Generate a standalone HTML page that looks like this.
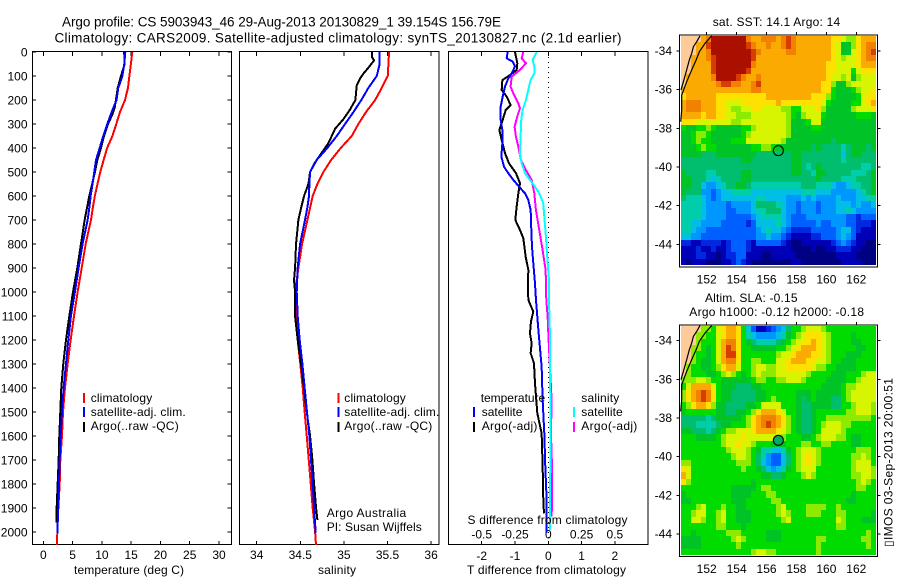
<!DOCTYPE html>
<html lang="en">
<head>
<meta charset="utf-8">
<title>Argo profile chart</title>
<style>
html,body{margin:0;padding:0;background:#fff;width:900px;height:580px;overflow:hidden}
svg{display:block}
text{font-family:"Liberation Sans",Arial,sans-serif;font-size:12px;fill:#000}
.title{font-size:13.5px}
</style>
</head>
<body>
<svg id="chart" xmlns="http://www.w3.org/2000/svg" width="900" height="580" viewBox="0 0 900 580">
<rect x="0" y="0" width="900" height="580" fill="#fff"/>
<text class="title" x="62" y="26.5" textLength="439" lengthAdjust="spacing">Argo profile: CS 5903943_46 29-Aug-2013 20130829_1 39.154S 156.79E</text>
<text class="title" x="54.5" y="42.5" textLength="567" lengthAdjust="spacing">Climatology: CARS2009. Satellite-adjusted climatology: synTS_20130827.nc (2.1d earlier)</text>
<g id="maps"></g>
<g id="panels"></g>

<text x="74" y="574" textLength="110" lengthAdjust="spacing">temperature (deg C)</text>
<text x="318" y="574" textLength="38" lengthAdjust="spacing">salinity</text>
<text x="467" y="574" textLength="159" lengthAdjust="spacing">T difference from climatology</text>
<text x="467.5" y="524" textLength="160" lengthAdjust="spacing">S difference from climatology</text>

<g>
<rect x="83" y="393" width="2" height="10" fill="#f00"/>
<rect x="83" y="407" width="2" height="10" fill="#00f"/>
<rect x="83" y="422" width="2" height="10" fill="#000"/>
<text x="90.7" y="402" textLength="61.5" lengthAdjust="spacing">climatology</text>
<text x="90.7" y="416" textLength="95" lengthAdjust="spacing">satellite-adj. clim.</text>
<text x="90.7" y="430" textLength="88" lengthAdjust="spacing">Argo(..raw -QC)</text>
</g>
<g>
<rect x="337.5" y="393" width="2" height="10" fill="#f00"/>
<rect x="337.5" y="407" width="2" height="10" fill="#00f"/>
<rect x="337.5" y="422" width="2" height="10" fill="#000"/>
<text x="344.3" y="402" textLength="61.5" lengthAdjust="spacing">climatology</text>
<text x="344.3" y="416" textLength="95" lengthAdjust="spacing">satellite-adj. clim.</text>
<text x="344.3" y="430" textLength="88" lengthAdjust="spacing">Argo(..raw -QC)</text>
<text x="326.7" y="517" textLength="79.5" lengthAdjust="spacing">Argo Australia</text>
<text x="326.7" y="531" textLength="95" lengthAdjust="spacing">PI: Susan Wijffels</text>
</g>
<g>
<text x="480.7" y="402" textLength="64.5" lengthAdjust="spacing">temperature</text>
<rect x="473" y="407" width="2" height="10" fill="#00f"/>
<text x="481.7" y="416" textLength="40.7" lengthAdjust="spacing">satellite</text>
<rect x="473" y="422" width="2" height="10" fill="#000"/>
<text x="481.7" y="430" textLength="55.7" lengthAdjust="spacing">Argo(-adj)</text>
<text x="581.3" y="402" textLength="38" lengthAdjust="spacing">salinity</text>
<rect x="573" y="407" width="2" height="10" fill="#0ff"/>
<text x="581.3" y="416" textLength="41.4" lengthAdjust="spacing">satellite</text>
<rect x="573" y="422" width="2" height="10" fill="#f0f"/>
<text x="581.3" y="430" textLength="56" lengthAdjust="spacing">Argo(-adj)</text>
</g>

<text x="712.7" y="26" textLength="127.5" lengthAdjust="spacing">sat. SST: 14.1  Argo: 14</text>
<text x="705" y="302" textLength="92.5" lengthAdjust="spacing">Altim. SLA: -0.15</text>
<text x="689.3" y="316" textLength="174.7" lengthAdjust="spacing">Argo h1000: -0.12 h2000: -0.18</text>
<text transform="translate(892.5,547) rotate(-90)" textLength="169" lengthAdjust="spacing">▯IMOS 03-Sep-2013 20:00:51</text>
</svg>

<script>
/* ---------- profile data (depth in m, temperature in deg C, salinity in psu) ---------- */
const climDepth = [0,100,150,200,250,300,350,400,450,500,550,600,650,700,800,900,1000,1100,1200,1300,1400,1500,1600,1700,1800,1900,2000,2055];
const climTemp  = [15.2,14.7,14.45,13.95,13.1,12.46,11.8,10.9,10.3,9.73,9.25,8.8,8.45,8.14,7.23,6.55,5.86,5.24,4.67,4.15,3.7,3.36,3.19,2.9,2.8,2.56,2.4,2.3];
const climSal   = [35.518,35.503,35.434,35.358,35.254,35.166,35.09,34.964,34.853,34.765,34.696,34.642,34.612,34.581,34.52,34.478,34.44,34.459,34.47,34.5,34.528,34.55,34.574,34.597,34.62,34.642,34.67,34.68];

const satDepth = [0,50,100,150,200,250,300,350,400,450,500,550,600,650,700,800,900,1000,1100,1200,1300,1400,1500,1600,1700,1800,1900,2005];
const satTemp  = [14.0,13.83,13.5,12.8,12.5,11.67,10.93,10.24,9.62,9.0,8.7,8.4,8.08,7.85,7.57,6.7,6.03,5.4,4.72,4.27,3.87,3.47,3.19,2.96,2.79,2.68,2.56,2.39];
const satSal   = [35.41,35.41,35.377,35.28,35.2,35.11,35.013,34.918,34.81,34.688,34.612,34.604,34.6,34.58,34.554,34.497,34.47,34.459,34.47,34.493,34.524,34.55,34.577,34.604,34.623,34.642,34.658,34.677];

const argoTempDepth = [0,50,100,150,200,230,260,300,350,400,450,500,600,700,800,900,1000,1100,1200,1300,1400,1500,1600,1700,1800,1900,1960];
const argoTemp      = [13.8,13.9,13.26,12.7,12.4,12.2,11.8,11.04,10.36,9.85,9.22,8.82,7.85,7.06,6.43,5.8,5.07,4.44,3.87,3.41,3.07,2.9,2.73,2.62,2.45,2.28,2.22];
const argoSalDepth  = [0,20,35,60,90,110,140,200,240,280,320,380,420,460,500,550,600,650,700,800,900,950,1000,1100,1200,1300,1400,1500,1600,1700,1800,1900,1950];
const argoSal       = [35.32,35.32,35.346,35.293,35.224,35.186,35.147,35.132,35.07,34.994,34.899,34.822,34.746,34.669,34.612,34.593,34.543,34.509,34.478,34.451,34.44,34.428,34.44,34.44,34.47,34.509,34.543,34.574,34.612,34.639,34.658,34.681,34.696];

/* differences from climatology */
const dTempSatDepth = [0,26,40,60,89,110,144,186,228,283,325,380,436,478,505,533,561,589,617,658,742,811,880,964,1033,1172,1311,1450,1589,1728,1866,2005];
const dTempSat      = [-1.22,-1.25,-1.07,-1,-1.1,-1.2,-1.3,-1.37,-1.43,-1.43,-1.38,-1.38,-1.41,-1.33,-1.2,-1.05,-0.88,-0.7,-0.6,-0.53,-0.51,-0.49,-0.45,-0.4,-0.37,-0.29,-0.2,-0.17,-0.12,-0.09,-0.05,-0.05];
const dTempArgoDepth = [0,20,47,75,96,117,158,186,221,242,283,325,367,422,464,505,547,589,644,700,742,776,853,908,978,1033,1082,1123,1172,1214,1255,1297,1380,1505,1589,1728,1866,1922];
const dTempArgo      = [-1,-0.97,-0.93,-0.95,-1.15,-1.38,-1.4,-1.25,-1.13,-1.28,-1.37,-1.47,-1.4,-1.3,-1.18,-0.97,-0.85,-0.9,-0.95,-0.99,-0.85,-0.75,-0.68,-0.6,-0.61,-0.6,-0.45,-0.52,-0.55,-0.5,-0.53,-0.43,-0.4,-0.33,-0.2,-0.17,-0.15,-0.13];
const dSalArgoDepth = [0,26,47,75,103,144,172,214,235,269,311,353,394,450,492,533,589,658,742,825,908,1033,1102,1172,1311,1450,1589,1728,1866,1936];
const dSalArgo      = [-0.188,-0.2,-0.168,-0.213,-0.275,-0.283,-0.263,-0.225,-0.213,-0.233,-0.253,-0.243,-0.225,-0.205,-0.168,-0.125,-0.105,-0.093,-0.068,-0.043,-0.02,-0.015,-0.005,0,0.012,0.025,0.02,0.028,0.028,0.025];
const dSalSatDepth = [0,33,61,89,117,158,200,242,283,353,422,464,505,533,561,589,630,686,769,853,950,1033,1172,1450,1728,1991];
const dSalSat      = [-0.0875,-0.1175,-0.105,-0.105,-0.133,-0.15,-0.168,-0.193,-0.203,-0.208,-0.213,-0.2,-0.175,-0.138,-0.1,-0.068,-0.038,-0.03,-0.018,-0.008,0.005,0.005,0.012,0.015,0.015,0.012];

/* tick labels */
const depthTicks = [0,100,200,300,400,500,600,700,800,900,1000,1100,1200,1300,1400,1500,1600,1700,1800,1900,2000];
const tempTicks = [0,5,10,15,20,25,30];
const salTicks = [34,34.5,35,35.5,36];
const dTempTicks = [-2,-1,0,1,2];
const dSalTicks = [-0.5,-0.25,0,0.25,0.5];
const lonTicks = [152,154,156,158,160,162];
const latTicks = [34,36,38,40,42,44];

/* profile location and coastlines (lon E, lat S) */
const argoLon = 156.79;
const argoLat = 39.154;
const coastLon = [151.55,151.33,151.11,151,150.84,150.66,150.44,150.28];
const coastLat = [33.22,33.52,33.78,34.12,34.47,34.98,35.59,36.02];
const shelfLon = [152.33,151.89,151.51,151.29,151,150.66,150.33,150.33,150.26];
const shelfLat = [33.22,33.6,34.03,34.47,34.98,35.59,36.28,37.05,37.66];

/* map grids: colour-scale level per cell, -1 = land (no data) */
const sstGrid = [
[-1,-1,-1,-1,13,14,16,16,16,16,16,16,16,14,13,13,14,14,14,13,14,15,14,13,13,13,13,13,13,13,12,12,11,10,10,12,13,13,13],
[-1,-1,-1,13,13,15,16,16,16,16,16,16,16,15,14,13,13,14,13,13,14,15,14,13,13,13,13,13,13,13,12,11,8,8,10,12,13,14,14],
[-1,-1,-1,13,13,14,16,16,16,16,16,16,16,16,15,14,13,13,13,13,13,14,14,13,13,13,13,13,13,13,12,11,8,8,11,12,13,14,15],
[-1,-1,13,13,13,14,15,16,16,16,16,16,16,16,15,13,13,13,13,13,13,13,13,13,13,13,13,13,13,13,12,11,10,11,11,12,13,14,14],
[-1,-1,13,13,13,13,15,16,16,16,16,16,16,16,14,13,13,13,13,13,13,13,13,13,13,13,13,13,13,12,12,11,11,11,11,12,13,13,13],
[-1,-1,13,13,13,13,15,16,16,16,16,16,16,15,13,13,13,13,13,13,13,13,13,13,13,13,13,13,13,12,12,11,11,11,9,11,12,12,12],
[-1,13,13,13,13,13,14,16,16,16,16,15,14,13,13,14,13,13,13,13,13,13,13,13,13,13,13,13,13,12,11,11,10,11,8,10,11,11,11],
[-1,13,13,13,13,13,13,14,15,15,14,14,13,13,14,15,13,13,13,13,13,13,13,13,13,13,13,13,12,12,10,8,8,10,11,11,11,11,11],
[13,13,13,13,13,13,13,13,13,13,13,13,13,13,14,14,13,13,13,13,13,13,13,13,13,13,13,13,12,12,9,8,8,8,9,10,11,11,12],
[12,13,13,13,13,13,13,12,12,12,12,12,12,12,12,12,12,13,13,13,13,13,13,13,13,13,12,12,12,10,9,8,8,8,8,9,11,12,12],
[13,14,14,14,13,13,13,12,12,11,11,11,12,12,12,12,12,12,12,13,12,12,12,12,12,12,12,12,11,9,8,8,8,8,9,9,11,12,13],
[13,14,14,14,13,13,13,12,12,11,10,10,11,11,12,12,11,11,11,11,10,10,9,9,11,11,11,12,10,8,8,8,8,8,10,11,11,11,12],
[13,13,13,13,12,13,13,12,12,11,11,10,10,10,11,11,11,11,11,11,11,10,9,8,10,11,11,11,9,8,8,8,8,8,8,9,9,9,8],
[12,12,12,11,11,11,11,11,11,11,10,10,11,11,11,11,11,11,11,11,11,10,8,8,8,9,11,11,8,8,8,8,8,8,8,8,8,8,8],
[9,8,8,9,9,10,9,8,8,8,8,8,9,9,10,11,11,11,11,11,11,10,8,8,8,8,9,9,8,8,8,8,8,8,8,8,8,8,8],
[8,8,9,10,10,9,8,8,8,8,8,8,9,10,11,11,11,11,11,11,11,10,8,8,8,8,8,8,8,8,8,8,8,8,8,8,8,8,8],
[8,8,9,10,9,9,8,8,8,8,9,9,9,11,11,11,11,11,11,11,10,8,8,8,8,8,8,8,8,8,7,8,8,8,8,8,8,8,8],
[8,8,8,9,10,9,9,8,8,8,8,8,8,8,9,9,10,10,9,8,8,8,8,8,8,8,7,8,7,7,7,7,6,7,8,8,8,7,8],
[8,8,8,8,7,7,7,8,8,8,8,8,8,8,8,7,7,7,7,7,7,7,8,8,7,7,7,7,7,7,7,7,5,7,8,8,7,7,7],
[7,7,7,7,7,7,7,7,7,7,7,7,8,8,7,7,7,7,7,7,7,7,8,8,7,7,7,7,7,7,7,7,6,7,7,7,7,7,7],
[7,7,7,7,7,7,7,7,7,7,7,7,7,7,7,7,7,7,7,7,7,7,8,8,7,6,7,8,7,7,7,7,7,7,7,7,6,6,7],
[8,7,7,7,7,6,6,7,7,7,7,7,8,8,7,7,7,7,7,7,7,7,8,8,7,7,6,8,8,7,7,7,7,7,6,6,6,7,8],
[8,8,7,7,7,6,5,6,7,7,7,7,8,8,7,7,7,7,7,7,7,7,7,7,7,7,7,8,7,7,7,7,6,6,6,7,7,7,8],
[8,8,7,7,5,4,4,5,6,7,7,8,8,7,6,6,6,6,6,6,6,6,6,6,7,7,7,6,6,6,5,4,4,5,6,6,7,7,8],
[8,7,7,7,4,4,3,4,5,5,6,6,6,6,5,5,5,5,5,5,5,5,5,5,6,6,6,5,5,5,4,4,4,4,4,5,6,7,8],
[7,6,6,6,5,4,3,4,5,5,5,5,5,5,5,6,6,5,5,5,5,4,4,4,5,4,5,4,4,4,4,5,4,4,4,5,5,6,6],
[6,6,6,6,5,4,4,4,4,3,4,4,4,4,5,7,7,7,7,6,5,4,4,3,4,4,4,3,4,4,4,5,5,5,4,5,4,4,5],
[6,6,6,6,5,4,4,4,4,3,3,4,4,4,5,6,6,7,7,7,5,4,4,3,4,4,4,3,4,4,4,5,5,6,5,4,4,4,4],
[6,6,6,6,5,4,4,4,4,3,3,3,3,3,4,5,6,6,6,6,5,4,3,3,3,4,4,4,4,4,4,4,4,3,3,2,3,3,3],
[6,6,5,5,4,4,4,4,3,3,3,3,3,2,3,5,5,5,5,6,5,4,3,3,3,3,3,4,3,3,4,4,4,3,3,2,2,2,1],
[6,6,5,4,4,3,3,3,3,3,3,3,3,3,3,4,5,6,5,5,4,3,2,2,2,2,3,3,3,3,3,4,5,5,3,2,1,1,1],
[5,5,4,4,3,3,3,3,3,3,3,3,3,3,3,4,4,5,4,4,3,2,1,1,1,1,2,2,3,3,3,4,5,4,3,1,1,1,1],
[2,2,1,1,2,2,2,2,1,2,3,3,3,2,1,3,3,3,3,3,2,1,0,0,1,1,1,1,1,1,2,3,4,3,2,1,1,0,0],
[1,1,1,2,1,1,2,1,1,2,3,3,3,2,1,1,1,1,1,1,1,1,0,0,0,0,1,0,0,1,1,2,2,2,1,1,0,0,0],
[1,1,1,2,2,1,1,0,1,2,2,3,3,1,1,1,0,0,1,1,1,1,1,0,0,0,0,0,0,0,0,1,1,1,1,0,0,0,0],
[1,0,1,1,1,0,0,0,1,1,2,3,2,1,0,0,0,0,0,0,0,0,1,1,0,0,0,0,0,0,0,0,1,1,1,1,0,0,0]
];
const slaGrid = [
[-1,-1,-1,-1,10,10,9,11,12,13,13,12,9,5,3,1,1,2,3,4,5,7,9,9,10,11,11,11,10,9,9,9,9,9,9,9,9,9,9],
[-1,-1,-1,10,10,9,9,11,12,13,13,12,9,6,5,4,4,4,4,5,6,8,9,10,11,12,12,12,11,10,9,9,9,9,8,9,9,9,9],
[-1,-1,-1,10,9,9,9,11,13,14,14,12,9,8,7,6,6,6,6,7,8,9,10,11,12,12,13,12,11,10,9,9,9,9,8,8,9,9,9],
[-1,-1,10,10,9,8,9,11,13,15,14,12,9,9,8,8,8,8,8,9,9,10,11,12,13,13,13,12,11,10,9,9,9,9,9,8,8,9,9],
[-1,-1,10,9,9,8,9,11,13,15,15,12,9,9,9,9,9,9,9,10,11,11,12,13,13,13,12,12,11,10,9,9,9,8,8,8,9,9,9],
[-1,-1,10,9,8,8,9,11,13,14,14,12,9,9,10,10,9,9,9,11,11,12,13,13,13,12,12,11,11,10,9,9,8,8,8,9,9,9,9],
[-1,10,9,9,8,8,9,10,12,13,13,11,9,9,10,11,11,10,10,11,11,12,12,12,12,12,11,10,10,9,9,8,8,8,8,9,9,9,9],
[-1,10,9,9,9,8,8,9,10,11,10,9,8,9,10,11,10,10,10,11,11,11,11,11,11,10,9,9,9,9,8,8,8,9,9,9,10,11,11],
[10,10,10,11,11,10,9,9,8,8,8,8,8,8,9,10,10,9,9,10,10,11,11,11,10,9,9,9,9,8,8,8,8,9,9,10,11,11,11],
[9,11,13,13,13,13,11,9,8,8,8,7,7,7,8,8,9,9,9,9,9,9,9,9,9,9,9,9,8,8,8,8,9,10,10,11,11,11,11],
[10,12,13,14,15,14,12,9,8,8,7,7,7,7,7,8,8,9,9,9,9,9,9,8,8,8,9,8,8,8,8,8,9,10,11,11,11,11,11],
[10,12,13,14,15,14,12,9,8,8,7,7,7,7,7,8,8,9,10,9,9,9,9,8,7,8,9,8,8,8,7,7,9,10,11,11,11,11,11],
[9,10,12,13,13,12,10,8,8,7,7,7,7,8,8,9,11,11,11,11,9,9,9,8,7,7,8,8,8,8,7,7,9,9,10,11,11,11,10],
[8,9,9,9,9,9,9,8,8,7,7,8,8,9,10,12,13,13,13,12,11,9,9,8,7,7,8,9,9,9,9,9,9,10,10,11,11,11,10],
[7,7,7,7,7,6,7,8,8,8,8,8,9,10,12,13,14,14,14,13,12,10,9,8,7,7,8,9,9,10,10,10,10,10,10,10,10,10,9],
[7,7,7,6,6,6,6,7,8,8,9,9,9,10,12,13,14,15,14,13,12,10,9,8,7,7,8,9,10,11,11,11,10,10,9,9,9,9,9],
[8,8,7,7,7,6,7,8,9,10,10,11,11,11,12,13,13,13,13,12,11,10,9,8,7,7,8,9,11,11,11,11,10,9,9,9,9,9,9],
[9,9,9,8,8,8,8,9,10,11,11,11,12,11,11,11,11,11,11,11,10,9,9,9,8,8,9,10,11,11,11,10,10,9,8,8,9,9,9],
[9,9,9,9,9,9,9,9,10,11,11,12,11,11,10,9,9,9,8,8,8,9,9,9,10,10,9,9,10,10,9,9,9,9,8,8,9,9,9],
[9,9,9,9,9,9,9,9,9,10,11,11,11,10,9,8,6,6,5,5,6,8,9,10,11,11,11,10,9,9,9,9,9,9,9,10,10,10,9],
[9,9,9,9,9,9,9,9,9,9,10,11,11,10,9,7,6,4,3,3,5,7,9,10,11,12,11,10,9,9,9,9,9,9,10,10,11,10,9],
[10,10,9,9,9,9,9,9,9,9,9,10,10,10,9,7,5,4,3,3,5,7,9,10,11,12,11,10,9,9,9,9,9,9,10,11,11,11,9],
[12,11,9,9,9,9,9,9,9,9,9,9,10,9,9,8,7,5,4,5,6,8,9,10,11,11,11,9,9,9,9,9,9,9,10,11,11,11,10],
[13,11,9,9,9,9,9,9,9,9,9,9,9,9,9,9,8,8,7,7,8,9,9,9,10,11,10,9,9,9,9,9,9,9,10,10,11,11,10],
[12,10,9,9,9,9,9,9,9,9,9,9,9,9,8,9,9,9,9,9,9,9,9,9,9,9,9,9,9,9,9,9,9,9,9,10,11,10,9],
[9,9,9,9,9,9,9,9,9,9,8,8,8,8,8,9,10,10,9,9,9,9,9,9,9,9,9,9,9,9,9,9,9,9,9,10,10,9,9],
[8,9,9,9,9,9,9,9,9,9,8,8,8,8,9,9,9,10,10,9,9,9,9,9,9,9,9,9,9,9,9,9,9,9,8,9,9,9,9],
[8,8,9,9,9,9,9,9,9,9,8,8,8,9,9,9,9,9,10,10,9,9,9,9,9,9,9,9,9,9,9,9,9,8,8,9,9,9,9],
[9,9,9,10,11,9,9,9,10,9,9,8,8,9,9,9,9,9,9,10,11,9,9,9,9,10,10,10,10,9,9,10,9,9,9,9,9,9,9],
[9,9,10,11,11,9,9,10,11,9,9,8,8,8,9,9,9,9,9,10,11,10,9,9,9,10,10,10,9,9,9,10,10,9,9,9,9,9,8],
[9,9,11,11,10,9,9,10,11,9,9,8,8,8,9,9,9,9,9,9,10,11,9,9,9,9,9,9,9,9,9,11,10,9,9,9,8,8,8],
[9,9,9,9,9,9,9,10,10,9,9,9,8,9,9,9,9,9,9,9,9,9,9,9,9,9,9,9,9,9,9,10,10,9,9,9,9,9,9],
[9,9,8,9,9,9,9,9,9,10,10,10,9,9,9,9,9,8,8,8,9,9,9,9,9,9,9,9,9,9,9,9,9,9,9,9,9,10,9],
[8,8,8,8,9,9,9,9,9,9,10,11,10,9,9,9,9,8,8,8,9,9,9,9,9,9,9,10,10,9,9,9,9,9,9,9,10,10,9],
[8,8,8,8,9,9,9,9,9,9,9,10,9,9,9,9,9,9,9,9,9,9,9,9,9,9,9,10,9,9,9,9,9,9,9,9,9,10,9],
[9,9,9,9,9,9,9,9,9,9,9,9,9,9,10,11,11,10,10,9,9,9,9,9,9,9,9,10,9,9,9,9,9,9,9,9,9,9,9]
];

/* ---------- colour scale ---------- */
const LAND = 'rgb(255,204,153)';
const scale = ['rgb(0,0,130)','rgb(0,0,185)','rgb(0,40,225)','rgb(0,95,255)','rgb(0,150,255)','rgb(0,190,230)','rgb(0,205,170)','rgb(0,190,110)','rgb(0,195,40)','rgb(0,220,0)','rgb(140,235,0)','rgb(215,245,0)','rgb(255,225,0)','rgb(250,170,0)','rgb(240,130,0)','rgb(215,60,0)','rgb(170,15,0)'];

/* ---------- axis functions ---------- */
const P = {top:52, bottom:545};
const depthY = d => 52 + 0.24 * d;
const tempX = t => 43.3 + 5.857 * t;
const salX = s => 256.7 + 87.2 * (s - 34);
const dTempX = t => 548.3 + 33.3 * t;
const dSalX = s => 548.3 + 133.2 * s;
const lonX = lon => 706.7 + 14.96 * (lon - 152);
const sstLatY = lat => 51 + 19.33 * (lat - 34);
const slaLatY = lat => 340.7 + 19.33 * (lat - 34);

const NS = 'http://www.w3.org/2000/svg';
function mk(tag, parent) {
  const e = document.createElementNS(NS, tag);
  parent.appendChild(e);
  return e;
}
function seg(parent, x1, y1, x2, y2, sw) {
  const l = mk('line', parent);
  l.setAttribute('x1', x1); l.setAttribute('y1', y1);
  l.setAttribute('x2', x2); l.setAttribute('y2', y2);
  l.setAttribute('stroke', '#000');
  l.setAttribute('stroke-width', sw || 1);
  l.setAttribute('shape-rendering', 'crispEdges');
  
  
  return l;
}
function label(parent, x, y, str, anchor) {
  const t = mk('text', parent);
  t.setAttribute('x', x);
  t.setAttribute('y', y);
  t.setAttribute('text-anchor', anchor || 'middle');
  t.textContent = str;
  
  
  return t;
}
function frame(parent, x, y, w, h) {
  const r = mk('rect', parent);
  r.setAttribute('x', x); r.setAttribute('y', y);
  r.setAttribute('width', w); r.setAttribute('height', h);
  r.setAttribute('fill', 'none');
  r.setAttribute('stroke', '#000');
  r.setAttribute('stroke-width', 1);
  r.setAttribute('shape-rendering', 'crispEdges');
  
  
}
function profile(parent, xFn, values, depths, color, name) {
  const p = mk('polyline', parent);
  const pts = [];
  for (let i = 0; i < values.length; i++) {
    pts.push(xFn(values[i]).toFixed(2) + ',' + depthY(depths[i]).toFixed(2));
  }
  p.setAttribute('points', pts.join(' '));
  p.setAttribute('fill', 'none');
  p.setAttribute('stroke', color);
  p.setAttribute('stroke-width', 2);
  p.setAttribute('stroke-linejoin', 'round');
  p.setAttribute('shape-rendering', 'crispEdges');
  
  
}

/* ---------- profile panels ---------- */
const panels = document.getElementById('panels');
const frames = [[32.5,199],[239.5,199.5],[448.5,199.5]];
frames.forEach(f => frame(panels, f[0], P.top - 0.5, f[1], P.bottom - P.top));

depthTicks.forEach(d => {
  const y = depthY(d);
  label(panels, 27.5, y + 4.5, String(d), 'end');
  seg(panels, 32.5, y, 36, y);
  seg(panels, 227.5, y, 231.5, y);
});
tempTicks.forEach(t => {
  const x = tempX(t);
  label(panels, x, 559, String(t));
  seg(panels, x, P.top, x, P.top + 4);
  seg(panels, x, P.bottom - 4, x, P.bottom);
});
salTicks.forEach(s => {
  const x = salX(s);
  label(panels, x, 559, String(s));
  seg(panels, x, P.top, x, P.top + 4);
  seg(panels, x, P.bottom - 4, x, P.bottom);
});
dTempTicks.forEach(t => {
  const x = dTempX(t);
  label(panels, x, 560, String(t));
  seg(panels, x, P.top, x, P.top + 4);
  seg(panels, x, P.bottom - 4, x, P.bottom);
});
dSalTicks.forEach(s => {
  label(panels, dSalX(s), 538.7, String(s));
});

const zero = seg(panels, dTempX(0), P.top, dTempX(0), P.bottom, 1);
zero.setAttribute('stroke-dasharray', '1 4');


profile(panels, tempX, climTemp, climDepth, '#f00', 'temperature-climatology-line');
profile(panels, tempX, argoTemp, argoTempDepth, '#000', 'temperature-argo-line');
profile(panels, tempX, satTemp, satDepth, '#00f', 'temperature-satellite-line');

profile(panels, salX, climSal, climDepth, '#f00', 'salinity-climatology-line');
profile(panels, salX, argoSal, argoSalDepth, '#000', 'salinity-argo-line');
profile(panels, salX, satSal, satDepth, '#00f', 'salinity-satellite-line');

profile(panels, dTempX, dTempArgo, dTempArgoDepth, '#000', 't-difference-argo-line');
profile(panels, dTempX, dTempSat, dTempSatDepth, '#00f', 't-difference-satellite-line');
profile(panels, dSalX, dSalArgo, dSalArgoDepth, '#f0f', 's-difference-argo-line');
profile(panels, dSalX, dSalSat, dSalSatDepth, '#0ff', 's-difference-satellite-line');

/* ---------- maps ---------- */
const maps = document.getElementById('maps');
function drawMap(grid, name, imgTop, imgBottom, axTop, axBottom, latY, markerFill) {
  const g = mk('g', maps);
  
  
  const left = 681, cw = 5;
  const ch = (imgBottom - imgTop) / grid.length;
  const cells = mk('g', g);
  cells.setAttribute('shape-rendering', 'crispEdges');
  
  
  grid.forEach((row, j) => {
    const y0 = Math.round(imgTop + j * ch);
    const y1 = Math.round(imgTop + (j + 1) * ch);
    row.forEach((v, i) => {
      const r = mk('rect', cells);
      r.setAttribute('x', left + i * cw);
      r.setAttribute('y', y0);
      r.setAttribute('width', cw);
      r.setAttribute('height', y1 - y0);
      r.setAttribute('fill', v < 0 ? LAND : scale[v]);
      
      
    });
  });
  [[coastLon, coastLat, 'coastline'], [shelfLon, shelfLat, 'shelf-contour']].forEach(s => {
    const p = mk('polyline', g);
    p.setAttribute('points', s[0].map((lon, k) => lonX(lon).toFixed(1) + ',' + latY(s[1][k]).toFixed(1)).join(' '));
    p.setAttribute('fill', 'none');
    p.setAttribute('stroke', '#000');
    p.setAttribute('stroke-width', 1.2);
    
    
  });
  frame(g, 679.5, axTop, 198, axBottom - axTop);
  lonTicks.forEach(lon => {
    const x = lonX(lon);
    seg(g, x, axTop - 3, x, axTop);
    label(g, x, axBottom + 16.5, String(lon));
  });
  latTicks.forEach(lat => {
    const y = latY(lat);
    seg(g, 676.5, y, 679.5, y);
    seg(g, 877.5, y, 880.5, y);
    label(g, 672, y + 4, '-' + lat, 'end');
  });
  const c = mk('circle', g);
  c.setAttribute('cx', lonX(argoLon));
  c.setAttribute('cy', latY(argoLat));
  c.setAttribute('r', 5);
  c.setAttribute('fill', markerFill);
  c.setAttribute('stroke', '#000');
  c.setAttribute('stroke-width', 1.1);
  
  
}
drawMap(sstGrid, 'sst-map', 36, 265, 35, 267, sstLatY, 'none');
drawMap(slaGrid, 'sla-map', 326, 555, 325, 556.5, slaLatY, 'rgb(0,170,100)');
</script>
</body>
</html>
